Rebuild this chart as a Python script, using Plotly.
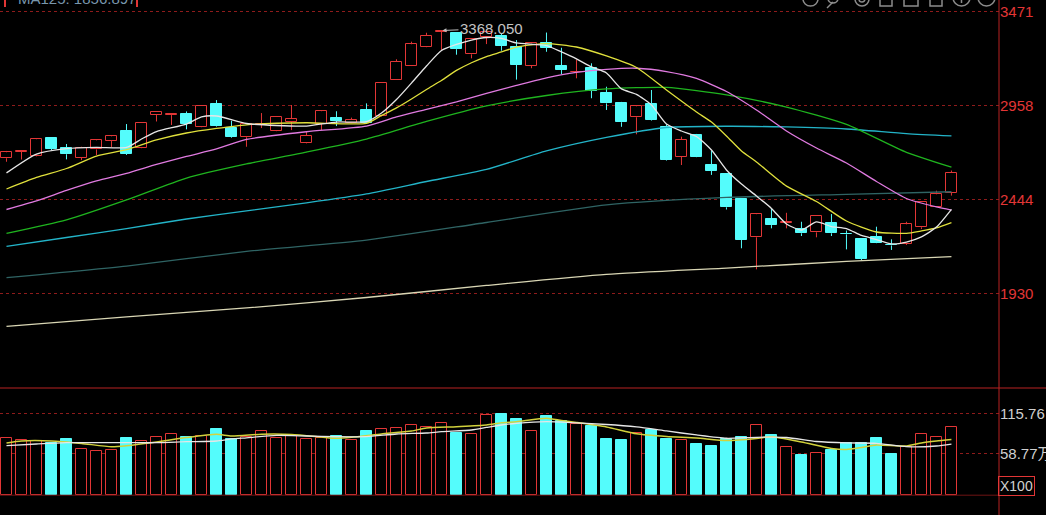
import plotly.graph_objects as go

# ---- daily candles, left to right ----
opens = [2670, 2705, 2682, 2782, 2724, 2674, 2718, 2764, 2817, 2724,
         2906, 2906, 2912, 2839, 2967, 2837, 2785, 2854, 2819, 2870,
         2752, 2860, 2890, 2864, 2934, 2901, 3099, 3176, 3278, 3361,
         3353, 3238, 3333, 3338, 3280, 3176, 3302, 3174, 3139, 3162,
         3028, 2974, 2894, 2965, 2842, 2679, 2797, 2633, 2584, 2447,
         2238, 2338, 2317, 2283, 2265, 2318, 2258, 2229, 2241, 2198,
         2201, 2293, 2404, 2482]
highs = [2710, 2711, 2776, 2786, 2748, 2733, 2770, 2794, 2857, 2865,
         2926, 2913, 2926, 2958, 2988, 2875, 2860, 2917, 2901, 2961,
         2815, 2928, 2927, 2892, 2970, 3084, 3211, 3307, 3356, 3368.05,
         3355, 3325, 3363, 3349, 3316, 3300, 3357, 3274, 3210, 3189,
         3061, 2978, 2956, 3043, 2856, 2788, 2803, 2711, 2587, 2450,
         2365, 2397, 2372, 2323, 2357, 2365, 2275, 2231, 2296, 2227,
         2323, 2434, 2493, 2603]
lows = [2651, 2663, 2680, 2715, 2664, 2660, 2688, 2732, 2688, 2723,
        2871, 2852, 2828, 2838, 2841, 2781, 2733, 2835, 2818, 2824,
        2750, 2824, 2846, 2862, 2862, 2898, 3098, 3174, 3277, 3259,
        3236, 3216, 3294, 3258, 3100, 3162, 3252, 3130, 3107, 2998,
        2934, 2842, 2801, 2876, 2657, 2633, 2674, 2579, 2390, 2178,
        2063, 2287, 2287, 2245, 2238, 2245, 2172, 2110, 2204, 2169,
        2196, 2283, 2403, 2466]
closes = [2703, 2709, 2774, 2722, 2692, 2726, 2768, 2790, 2693, 2863,
          2924, 2912, 2860, 2956, 2844, 2785, 2857, 2857, 2898, 2886,
          2792, 2927, 2874, 2879, 2864, 3083, 3198, 3293, 3340, 3366,
          3266, 3323, 3360, 3284, 3180, 3298, 3275, 3152, 3143, 3039,
          2970, 2867, 2954, 2879, 2660, 2770, 2675, 2602, 2402, 2223,
          2364, 2305, 2322, 2260, 2356, 2260, 2254, 2120, 2205, 2194,
          2309, 2433, 2473, 2591]
# volume, in units of X100
volumes = [81.1, 79.1, 77.2, 74.4, 79.6, 65.4, 63.4, 64.0, 81.5, 77.7,
           82.9, 86.8, 82.5, 84.8, 93.9, 79.6, 82.5, 91.9, 81.1, 83.9,
           79.6, 81.1, 84.3, 78.2, 91.9, 93.9, 95.7, 99.6, 97.6, 102.9,
           88.6, 86.8, 114.9, 115.76, 108.6, 91.9, 112.4, 106.1, 101.4, 98.2,
           80.1, 78.2, 89.1, 92.9, 80.1, 78.2, 72.9, 69.7, 80.5, 83.4,
           99.6, 85.3, 69.1, 56.8, 60.1, 64.4, 73.9, 73.9, 81.5, 58.7,
           69.1, 86.8, 83.4, 97.6]

# ---- moving averages (bar index, value) ----
ma5_idx = [0, 2, 4, 6, 8, 9, 10, 12, 13, 14, 16, 18, 20, 22, 24, 25, 26, 27, 28, 29,
           30, 31, 32, 33, 34, 36, 37, 38, 39, 40, 41, 42, 43, 44, 45, 46, 47, 48, 49, 50,
           51, 52, 53, 54, 55, 56, 57, 58, 59, 60, 61, 62, 63]
ma5 = [2590, 2693, 2723, 2730, 2729, 2775, 2816, 2857, 2896, 2901, 2860, 2849, 2846, 2868, 2870, 2917, 2991, 3081, 3174, 3259,
       3292, 3316, 3330, 3325, 3300, 3286, 3251, 3213, 3169, 3136, 3049, 3019, 2961, 2857, 2819, 2789, 2715, 2606, 2529, 2464,
       2396, 2311, 2278, 2322, 2297, 2286, 2248, 2226, 2202, 2212, 2240, 2294, 2391]

ma10_idx = [0, 2, 4, 6, 8, 10, 12, 14, 16, 20, 24, 25, 26, 27, 28, 29, 30, 31, 32, 33,
            34, 36, 38, 40, 42, 44, 46, 47, 48, 49, 50, 52, 54, 56, 58, 60, 61, 62, 63]
ma10 = [2502, 2565, 2614, 2682, 2717, 2770, 2808, 2833, 2853, 2864, 2861, 2904, 2945, 2994, 3046, 3095, 3150, 3192, 3226, 3251,
        3278, 3297, 3278, 3229, 3166, 3043, 2923, 2868, 2792, 2710, 2650, 2518, 2434, 2327, 2267, 2260, 2273, 2289, 2318]

ma20_idx = [0, 2, 4, 6, 8, 10, 12, 14, 16, 20, 24, 26, 28, 30, 32, 34, 36, 38, 40, 42,
            44, 46, 48, 50, 52, 54, 56, 58, 60, 62, 63]
ma20 = [2390, 2437, 2494, 2546, 2587, 2636, 2680, 2721, 2773, 2815, 2846, 2896, 2937, 2978, 3024, 3068, 3109, 3139, 3156, 3162,
        3144, 3106, 3035, 2934, 2819, 2726, 2644, 2543, 2450, 2404, 2387]

ma30_idx = [0, 4, 8, 12, 16, 20, 24, 28, 32, 36, 40, 44, 48, 52, 56, 60, 63]
ma30 = [2259, 2333, 2442, 2562, 2639, 2704, 2775, 2871, 2956, 3013, 3049, 3057, 3016, 2950, 2855, 2702, 2621]

ma60_idx = [0, 4, 8, 12, 16, 20, 24, 28, 32, 36, 40, 44, 48, 52, 56, 60, 63]
ma60 = [2188, 2237, 2286, 2338, 2382, 2426, 2475, 2543, 2609, 2710, 2784, 2838, 2845, 2841, 2830, 2805, 2792]

ma90_idx = [0, 8, 16, 24, 32, 40, 48, 56, 63]
ma90 = [2018, 2081, 2161, 2223, 2319, 2415, 2456, 2473, 2487]

ma125_idx = [0, 8, 16, 24, 32, 40, 48, 56, 63]
ma125 = [1751, 1803, 1852, 1909, 1975, 2035, 2070, 2106, 2132]

# volume averages
vma5_idx = [0, 2, 4, 8, 10, 12, 14, 15, 16, 18, 20, 22, 24, 26, 28, 29, 31, 32, 33, 34,
            36, 38, 40, 42, 44, 46, 48, 50, 52, 54, 56, 58, 60, 62, 63]
vma5 = [70.5, 72.9, 74.8, 74.8, 74.8, 76.2, 77.2, 80.1, 81.8, 85.1, 84.3, 83.4, 83.4, 87.2, 88.6, 90.5, 92.9, 96.5, 100.0, 102.4,
        104.7, 102.9, 100.7, 97.2, 91.5, 85.8, 81.1, 82.5, 82.2, 76.5, 74.5, 73.9, 69.1, 70.1, 72.9]
vma10_idx = [0, 1, 3, 5, 7, 8, 10, 12, 14, 15, 17, 19, 21, 22, 23, 25, 27, 28, 30, 32,
             33, 34, 36, 37, 38, 40, 42, 44, 46, 48, 50, 51, 53, 55, 56, 57, 58, 60, 61, 62, 63]
vma10 = [74.4, 77.2, 77.2, 73.7, 69.1, 70.5, 75.8, 82.2, 86.8, 84.3, 86.8, 86.5, 82.9, 81.1, 82.5, 87.2, 91.5, 95.7, 97.6, 100.0,
         103.3, 104.7, 109.6, 106.4, 103.6, 97.2, 87.5, 83.6, 81.5, 77.9, 80.8, 83.4, 75.8, 66.5, 65.1, 68.0, 71.5, 70.1, 74.4, 77.2, 79.4]

price_ticks = [1930, 2444, 2958, 3471]
vol_ticks = [58.77, 115.76]
vol_tick_labels = ["58.77万", "115.76"]
max_idx = 29
max_label = "3368.050"
ma_caption = "MA125: 1856.897"

RED = "#e23636"
CYAN = "#54fcfc"
GRID = "#8e1b1b"
FONT = "Liberation Sans, Arial, Noto Sans CJK SC, sans-serif"

W, H = 1046, 515
PW = 999            # plot area width in px
SPLIT = 1 - 388 / H  # volume pane below this


def px_x(p):
    return p / PW


def px_y(p):
    return 1 - p / H


xs = list(range(len(opens)))
up = [c >= o for o, c in zip(opens, closes)]


def wick_xy(rising):
    wx, wy = [], []
    for i in xs:
        if up[i] != rising:
            continue
        top = max(opens[i], closes[i])
        bot = min(opens[i], closes[i])
        wx += [i, i, None, i, i, None]
        wy += [highs[i], top, None, bot, lows[i], None]
    return wx, wy


fig = go.Figure()

for rising, col in [(True, RED), (False, CYAN)]:
    wx, wy = wick_xy(rising)
    fig.add_trace(go.Scatter(x=wx, y=wy, mode="lines", line=dict(color=col, width=1),
                             hoverinfo="skip"))
    sel = [i for i in xs if up[i] == rising]
    fig.add_trace(go.Bar(
        x=sel,
        base=[min(opens[i], closes[i]) for i in sel],
        y=[max(abs(closes[i] - opens[i]), 1) for i in sel],
        width=0.72,
        marker=dict(color="black" if rising else CYAN, line=dict(color=col, width=1)),
    ))
    fig.add_trace(go.Bar(
        x=sel, y=[volumes[i] for i in sel], yaxis="y2", width=0.72,
        marker=dict(color="black" if rising else CYAN, line=dict(color=col, width=1)),
    ))

ma_lines = [
    (ma125_idx, ma125, "#d9d6b4", "MA125"),
    (ma90_idx, ma90, "#2f6464", "MA90"),
    (ma60_idx, ma60, "#23b4c8", "MA60"),
    (ma30_idx, ma30, "#1fb41f", "MA30"),
    (ma20_idx, ma20, "#e07ae0", "MA20"),
    (ma10_idx, ma10, "#e0e03c", "MA10"),
    (ma5_idx, ma5, "#e6e6e6", "MA5"),
]
for idx, vals, col, name in ma_lines:
    fig.add_trace(go.Scatter(x=idx, y=vals, name=name, mode="lines",
                             line=dict(color=col, width=1.3, shape="spline", smoothing=0.6)))

fig.add_trace(go.Scatter(x=vma10_idx, y=vma10, yaxis="y2", mode="lines",
                         line=dict(color="#d2d23c", width=1.5, shape="spline", smoothing=0.6)))
fig.add_trace(go.Scatter(x=vma5_idx, y=vma5, yaxis="y2", mode="lines",
                         line=dict(color="#e6e6e6", width=1.3, shape="spline", smoothing=0.6)))

# highest price marker
fig.add_annotation(x=max_idx, y=highs[max_idx], text=max_label, showarrow=True,
                   arrowhead=2, arrowsize=0.8, arrowwidth=1, arrowcolor="#bdbdbd",
                   ax=50, ay=-2, standoff=1,
                   font=dict(size=15, color="#c4c4c4", family=FONT))

# top-left caption, partly cut by the top edge as in the screenshot
fig.add_annotation(xref="paper", yref="paper", x=px_x(16), y=px_y(-1), xanchor="left",
                   yanchor="middle", text=ma_caption, showarrow=False,
                   font=dict(size=15, color="#7896ac", family=FONT))

fig.add_annotation(xref="paper", yref="paper", x=1, y=px_y(486), xanchor="left",
                   yanchor="middle", text="X100", showarrow=False, xshift=-1,
                   bordercolor=RED, borderwidth=1, borderpad=1,
                   font=dict(size=14, color="#d0d0d0", family=FONT))

shapes = [
    dict(type="line", xref="paper", yref="paper", x0=1, x1=1, y0=0, y1=1,
         line=dict(color="#b82222", width=1)),
    dict(type="line", xref="paper", yref="paper", x0=0, x1=W / PW, y0=SPLIT, y1=SPLIT,
         line=dict(color="#b82222", width=1)),
    dict(type="line", xref="paper", yref="y2", x0=0, x1=1, y0=0, y1=0,
         line=dict(color="#6e1414", width=1)),
    dict(type="line", xref="paper", yref="paper", x0=px_x(5), x1=px_x(5), y0=px_y(7), y1=1,
         line=dict(color=RED, width=2)),
    dict(type="line", xref="paper", yref="paper", x0=px_x(137), x1=px_x(137), y0=px_y(7), y1=1,
         line=dict(color=RED, width=2)),
]
# toolbar icons along the top right, mostly cut off
icon = dict(color="#8c8c8c", width=1.5)
for kind, x0, x1, y0, y1 in [
    ("circle", 803, 818, -8, 6), ("circle", 828, 838, -6, 3), ("circle", 855, 869, -8, 6),
    ("circle", 859, 865, -4, 2), ("rect", 880, 892, -6, 6), ("rect", 904, 918, -6, 6),
    ("rect", 930, 942, -6, 6), ("circle", 953, 970, -11, 6), ("circle", 978, 995, -11, 6),
]:
    shapes.append(dict(type=kind, xref="paper", yref="paper", x0=px_x(x0), x1=px_x(x1),
                       y0=px_y(y1), y1=px_y(y0), line=icon))
shapes.append(dict(type="line", xref="paper", yref="paper", x0=px_x(827), x1=px_x(833),
                   y0=px_y(8), y1=px_y(2), line=icon))
shapes.append(dict(type="line", xref="paper", yref="paper", x0=px_x(961.5), x1=px_x(961.5),
                   y0=px_y(3), y1=px_y(-5), line=icon))
shapes.append(dict(type="line", xref="paper", yref="paper", x0=px_x(982), x1=px_x(991),
                   y0=px_y(-1), y1=px_y(-1), line=icon))

fig.update_layout(
    width=W, height=H,
    margin=dict(l=0, r=W - PW, t=0, b=0, autoexpand=False),
    paper_bgcolor="black", plot_bgcolor="black",
    showlegend=False, barmode="overlay", bargap=0,
    font=dict(family=FONT),
    shapes=shapes,
    xaxis=dict(range=[-0.433, 66.17], visible=False, fixedrange=True),
    yaxis=dict(domain=[SPLIT, 1], range=[1414.5, 3534.9], side="right", anchor="x",
               tickvals=price_ticks, ticks="", showgrid=True, gridcolor=GRID, griddash="dot",
               gridwidth=1, zeroline=False, showline=False, fixedrange=True,
               tickfont=dict(size=15, color=RED)),
    yaxis2=dict(domain=[0, SPLIT], range=[-28.2, 152.7], side="right", anchor="x",
                tickvals=vol_ticks, ticktext=vol_tick_labels, ticks="", showgrid=True,
                gridcolor=GRID, griddash="dot", gridwidth=1, zeroline=False,
                showline=False, fixedrange=True,
                tickfont=dict(size=15, color="#cfcfcf")),
)

fig.write_html("out.html", config={"displayModeBar": False},
               post_script="document.body.style.margin='0';")
